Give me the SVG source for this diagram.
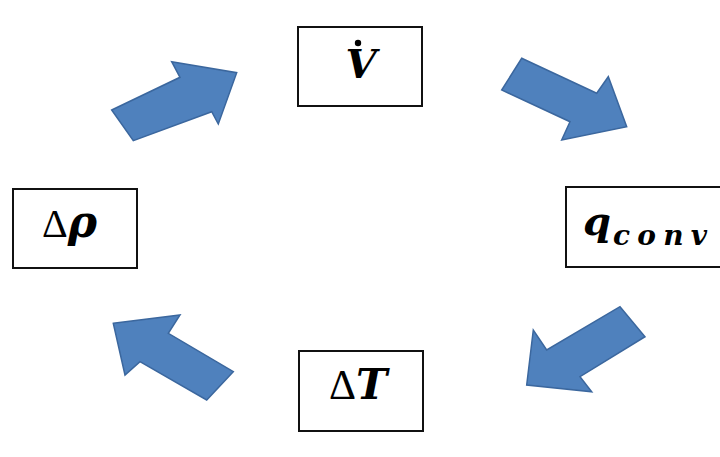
<svg xmlns="http://www.w3.org/2000/svg" width="720" height="457" viewBox="0 0 720 457">
<style>
.box{fill:#fff;stroke:#111;stroke-width:2}
.arr{fill:#4f81bd;stroke:#3b679e;stroke-width:1.5;stroke-linejoin:miter}
.t{font-family:"Liberation Serif","DejaVu Serif",serif;fill:#000}
.m{font-family:"DejaVu Serif","Liberation Serif",serif;font-weight:bold;font-style:italic}
.d{font-weight:normal;font-style:normal;font-family:"Liberation Serif",serif}
</style>
<rect width="720" height="457" fill="#fff"/>
<g id="connectors">
<polygon class="arr" points="111.7,110 180,77.3 171.7,61.7 236.7,72.7 218.3,124 211.7,111.7 133.3,140.7"/>
<polygon class="arr" points="521.7,58.3 596.7,93.3 608.3,76.7 626.7,126.7 561.7,140 570,121.7 501.7,90"/>
<polygon class="arr" points="620,306.7 645,336.7 580,376.7 591.7,391.7 526.7,385 533.3,330 546.7,350"/>
<polygon class="arr" points="113.3,323.3 180,315 168.3,333.3 233.3,371.7 206.7,400 140,361.7 125,375"/>
</g>
<g id="node-vdot">
<rect class="box" x="298" y="27" width="124" height="79"/>
<text class="t m" x="361" y="78" font-size="40" text-anchor="middle">V</text>
<circle cx="358" cy="43" r="3.2" fill="#000"/>
</g>
<g id="node-qconv">
<rect class="box" x="566" y="187" width="160" height="80"/>
<text class="t m" x="583" y="235" font-size="40">q</text>
<text class="t m" x="613" y="245" font-size="28" textLength="94" lengthAdjust="spacing">conv</text>
</g>
<g id="node-dT">
<rect class="box" x="299" y="351" width="124" height="80"/>
<text class="t" x="329" y="399"><tspan class="d" font-size="42">Δ</tspan><tspan class="m" font-size="42">T</tspan></text>
</g>
<g id="node-drho">
<rect class="box" x="13" y="189" width="124" height="79"/>
<text class="t" x="42" y="237"><tspan class="d" font-size="40">Δ</tspan><tspan class="m" font-size="44">ρ</tspan></text>
</g>
</svg>
